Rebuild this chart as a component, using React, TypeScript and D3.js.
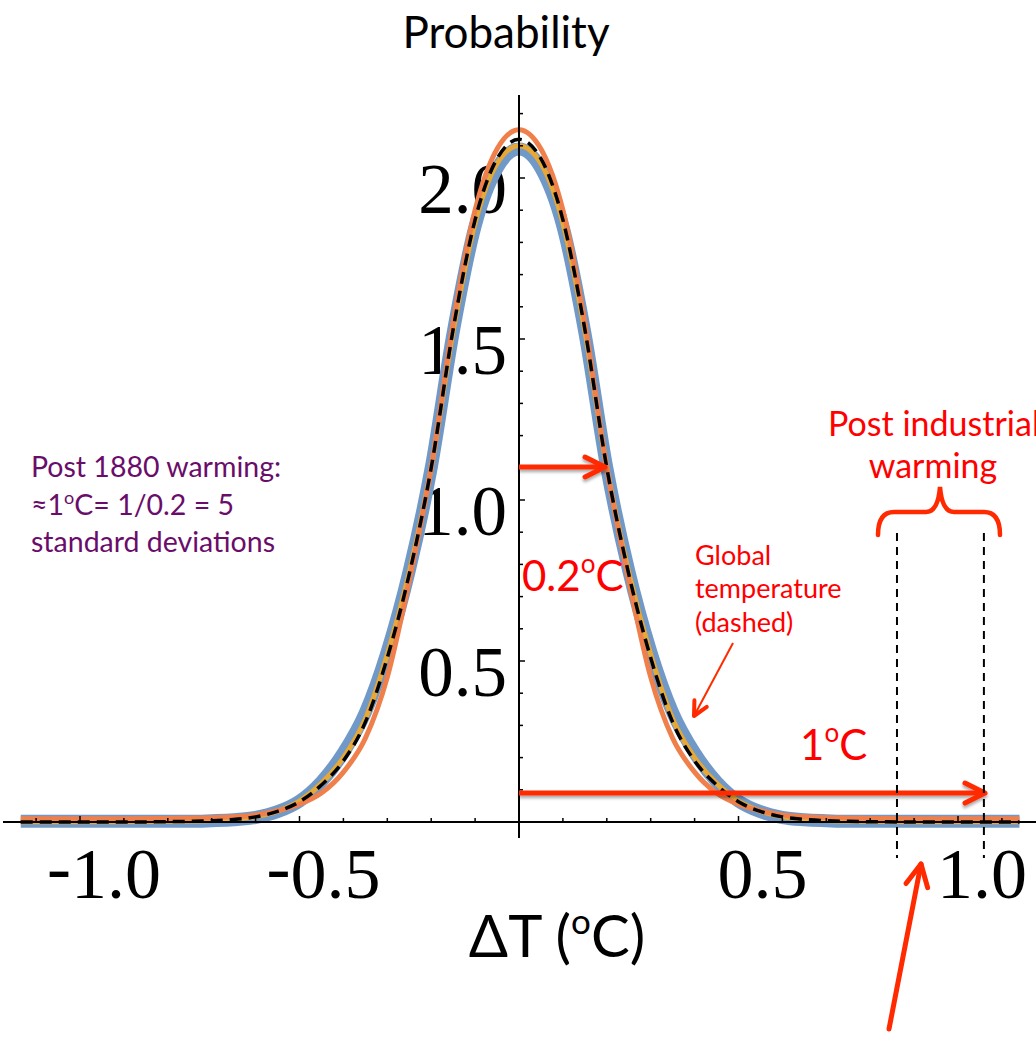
import React from 'react';
import * as d3 from 'd3';

// ---- data ----
const xGrid = [-1.135, -1.1, -1.0, -0.9, -0.8, -0.75, -0.7, -0.65, -0.6, -0.55, -0.5, -0.45, -0.4, -0.35, -0.3, -0.25, -0.2, -0.15, -0.1, -0.05, 0, 0.05, 0.1, 0.15, 0.2, 0.25, 0.3, 0.35, 0.4, 0.45, 0.5, 0.55, 0.6, 0.65, 0.7, 0.75, 0.8, 0.9, 1.0, 1.1, 1.14];

const blueSeries = [0.002, 0.002, 0.002, 0.002, 0.002, 0.002, 0.004, 0.007, 0.014, 0.032, 0.065, 0.125, 0.215, 0.34, 0.53, 0.78, 1.10, 1.52, 1.85, 2.03, 2.09, 2.03, 1.85, 1.52, 1.10, 0.78, 0.53, 0.34, 0.215, 0.125, 0.065, 0.032, 0.014, 0.007, 0.004, 0.002, 0.002, 0.002, 0.002, 0.002, 0.002];
const goldSeries = [0.001, 0.001, 0.001, 0.001, 0.002, 0.003, 0.005, 0.009, 0.017, 0.034, 0.065, 0.12, 0.20, 0.32, 0.52, 0.775, 1.10, 1.525, 1.86, 2.045, 2.10, 2.045, 1.86, 1.525, 1.10, 0.775, 0.52, 0.32, 0.20, 0.12, 0.065, 0.034, 0.017, 0.009, 0.005, 0.003, 0.002, 0.001, 0.001, 0.001, 0.001];
const orangeSeries = [0.01, 0.01, 0.01, 0.01, 0.011, 0.012, 0.013, 0.016, 0.022, 0.035, 0.055, 0.09, 0.155, 0.26, 0.45, 0.75, 1.10, 1.55, 1.90, 2.09, 2.15, 2.09, 1.90, 1.55, 1.10, 0.75, 0.45, 0.26, 0.155, 0.09, 0.055, 0.035, 0.022, 0.016, 0.013, 0.012, 0.011, 0.01, 0.01, 0.01, 0.01];
const globalDashed = [0, 0, 0, 0, 0.001, 0.002, 0.004, 0.008, 0.016, 0.033, 0.063, 0.115, 0.19, 0.31, 0.51, 0.77, 1.10, 1.53, 1.87, 2.06, 2.12, 2.06, 1.87, 1.53, 1.10, 0.77, 0.51, 0.31, 0.19, 0.115, 0.063, 0.033, 0.016, 0.008, 0.004, 0.002, 0.001, 0, 0, 0, 0];

const xTickLabels = [-1.0, -0.5, 0.5, 1.0];
const yTickLabels = [0.5, 1.0, 1.5, 2.0];
const xMinorTicks = [-1.1, -1.0, -0.9, -0.8, -0.7, -0.6, -0.5, -0.4, -0.3, -0.2, -0.1, 0.1, 0.2, 0.3, 0.4, 0.5, 0.6, 0.7, 0.8, 0.9, 1.0, 1.1];
const yMinorTicks = [0.1, 0.2, 0.3, 0.4, 0.5, 0.6, 0.7, 0.8, 0.9, 1.0, 1.1, 1.2, 1.3, 1.4, 1.5, 1.6, 1.7, 1.8, 1.9, 2.0, 2.1, 2.2];

// annotation anchors in data units
const sigmaArrow = { x0: 0, x1: 0.196, y: 1.1025 };
const oneDegArrow = { x0: 0, x1: 1.0615, y: 0.09 };
const warmingLines = [0.861, 1.059];
const warmingLineRange = [0.8975, -0.112];

const W = 1036;
const H = 1037;

export default function App() {
  const x = d3.scaleLinear().domain([-1, 1]).range([80, 958]);
  const y = d3.scaleLinear().domain([0, 2]).range([822, 178]);

  const line = d3
    .line<number>()
    .x((_, i) => x(xGrid[i]))
    .y((d) => y(d))
    .curve(d3.curveMonotoneX);

  const red = '#ff2a00';
  const tickLabelFont = '"Liberation Serif", "Times New Roman", serif';
  const sans = 'Lato, "Open Sans", sans-serif';

  const chevron = (tx: number, ty: number, angle: number, len: number, spread: number) => {
    const bx = Math.cos(angle), by = Math.sin(angle);
    const px = -by, py = bx;
    const p1 = [tx - bx * len + px * spread, ty - by * len + py * spread];
    const p2 = [tx - bx * len - px * spread, ty - by * len - py * spread];
    return `M${p1[0]},${p1[1]} L${tx},${ty} L${p2[0]},${p2[1]}`;
  };

  const a1y = y(sigmaArrow.y);
  const a2y = y(oneDegArrow.y);

  const bigArrowStart = [889, 1029];
  const bigArrowEnd = [921, 864];
  const bigAngle = Math.atan2(bigArrowEnd[1] - bigArrowStart[1], bigArrowEnd[0] - bigArrowStart[0]);
  const smallArrowStart = [733, 643];
  const smallArrowEnd = [694, 716];
  const smallAngle = Math.atan2(smallArrowEnd[1] - smallArrowStart[1], smallArrowEnd[0] - smallArrowStart[0]);

  return (
    <svg
      width={W}
      height={H}
      style={{ position: 'absolute', left: 0, top: 0, background: '#fff', overflow: 'hidden' }}
    >
      <defs>
        <filter id="shadow" x="-10%" y="-100%" width="120%" height="300%">
          <feDropShadow dx="0" dy="2.5" stdDeviation="1.5" floodColor="#000" floodOpacity="0.35" />
        </filter>
      </defs>
      <rect x={0} y={0} width={W} height={H} fill="#fff" />

      {/* Title */}
      <text x={506} y={48} textAnchor="middle" fontFamily={sans} fontSize={44} fill="#000">
        Probability
      </text>

      {/* Y tick labels */}
      {yTickLabels.map((v) => (
        <text key={'yl' + v} x={507} y={y(v) + 35} textAnchor="end" fontFamily={tickLabelFont} fontSize={71} fill="#000">
          {v.toFixed(1)}
        </text>
      ))}
      {/* X tick labels */}
      {xTickLabels.map((v) => (
        <text key={'xl' + v} x={x(v) + 24} y={898} textAnchor="middle" fontFamily={tickLabelFont} fontSize={72} fill="#000">
          {v < 0 ? (
            <>
              <tspan dy={-7}>-</tspan>
              <tspan dy={7}>{Math.abs(v).toFixed(1)}</tspan>
            </>
          ) : (
            v.toFixed(1)
          )}
        </text>
      ))}

      {/* Curves */}
      <path d={line(blueSeries) || ''} fill="none" stroke="#7199c8" strokeWidth={13} strokeLinejoin="round" />
      <path d={line(goldSeries) || ''} fill="none" stroke="#e6a837" strokeWidth={5} strokeLinejoin="round" />
      <path d={line(orangeSeries) || ''} fill="none" stroke="#f0804b" strokeWidth={5} strokeLinejoin="round" />
      <path d={line(globalDashed) || ''} fill="none" stroke="#000" strokeWidth={3.5} strokeDasharray="12,7" />

      {/* Axes */}
      <line x1={3} x2={W} y1={y(0)} y2={y(0)} stroke="#000" strokeWidth={2} />
      <line x1={x(0)} x2={x(0)} y1={95} y2={838} stroke="#000" strokeWidth={2} />
      {xMinorTicks.map((v) => (
        <line key={'xt' + v} x1={x(v)} x2={x(v)} y1={y(0)} y2={y(0) - (Math.abs(v * 2 - Math.round(v * 2)) < 1e-6 ? 6 : 4)} stroke="#000" strokeWidth={1.5} />
      ))}
      {yMinorTicks.map((v) => (
        <line key={'yt' + v} x1={x(0)} x2={x(0) + (Math.abs(v * 2 - Math.round(v * 2)) < 1e-6 ? 6 : 4)} y1={y(v)} y2={y(v)} stroke="#000" strokeWidth={1.5} />
      ))}

      {/* X axis title */}
      <text x={557} y={957} textAnchor="middle" fontFamily={sans} fontSize={58} fill="#000">
        ΔT (<tspan fontSize={35} dy={-23}>o</tspan><tspan dy={23}>C)</tspan>
      </text>

      {/* Purple note */}
      <g fontFamily={sans} fontSize={28.5} fill="#6a0d6a">
        <text x={31} y={477}>Post 1880 warming:</text>
        <text x={31} y={515}>≈1<tspan fontSize={18} dy={-11}>o</tspan><tspan dy={11}>C= 1/0.2 = 5</tspan></text>
        <text x={31} y={552}>standard deviations</text>
      </g>

      {/* sigma arrow */}
      <g filter="url(#shadow)">
        <line x1={x(sigmaArrow.x0)} x2={x(sigmaArrow.x1) - 2} y1={a1y} y2={a1y} stroke={red} strokeWidth={5} />
        <path d={chevron(x(sigmaArrow.x1), a1y, 0, 20, 10)} fill="none" stroke={red} strokeWidth={5} strokeLinecap="round" strokeLinejoin="round" />
      </g>
      <text x={522} y={591} fontFamily={sans} fontSize={42} fill="#ff0000">
        0.2<tspan fontSize={26} dy={-18}>o</tspan><tspan dy={18}>C</tspan>
      </text>

      {/* 1 degree arrow */}
      <g filter="url(#shadow)">
        <line x1={x(oneDegArrow.x0)} x2={x(oneDegArrow.x1) - 2} y1={a2y} y2={a2y} stroke={red} strokeWidth={5} />
        <path d={chevron(x(oneDegArrow.x1), a2y, 0, 20, 10)} fill="none" stroke={red} strokeWidth={5} strokeLinecap="round" strokeLinejoin="round" />
      </g>
      <text x={800} y={760} fontFamily={sans} fontSize={42} fill="#ff0000">
        1<tspan fontSize={26} dy={-18}>o</tspan><tspan dy={18}>C</tspan>
      </text>

      {/* Global temperature note */}
      <g fontFamily={sans} fontSize={27} fill="#ff0000">
        <text x={695} y={565}>Global</text>
        <text x={695} y={598}>temperature</text>
        <text x={695} y={632}>(dashed)</text>
      </g>
      <line x1={smallArrowStart[0]} y1={smallArrowStart[1]} x2={smallArrowEnd[0]} y2={smallArrowEnd[1]} stroke={red} strokeWidth={2} />
      <path d={chevron(smallArrowEnd[0], smallArrowEnd[1], smallAngle, 14, 7)} fill="none" stroke={red} strokeWidth={4} strokeLinecap="round" strokeLinejoin="round" />

      {/* Post industrial warming */}
      <g fontFamily={sans} fontSize={34} fill="#ff0000">
        <text x={828} y={436}>Post industrial</text>
        <text x={933} y={478} textAnchor="middle">warming</text>
      </g>
      <path d="M878,535 Q878,512 894,512 L926,512 Q938,512 940,487 Q942,512 954,512 L984,512 Q1000,512 1000,535" fill="none" stroke={red} strokeWidth={4.5} strokeLinecap="round" />
      {warmingLines.map((v) => (
        <line key={'wl' + v} x1={x(v)} x2={x(v)} y1={y(warmingLineRange[0])} y2={y(warmingLineRange[1])} stroke="#000" strokeWidth={2} strokeDasharray="8,6" />
      ))}

      {/* bottom arrow */}
      <line x1={bigArrowStart[0]} y1={bigArrowStart[1]} x2={bigArrowEnd[0]} y2={bigArrowEnd[1]} stroke={red} strokeWidth={5} strokeLinecap="round" />
      <path d={chevron(bigArrowEnd[0], bigArrowEnd[1], bigAngle, 22, 11)} fill="none" stroke={red} strokeWidth={5} strokeLinecap="round" strokeLinejoin="round" />
    </svg>
  );
}
